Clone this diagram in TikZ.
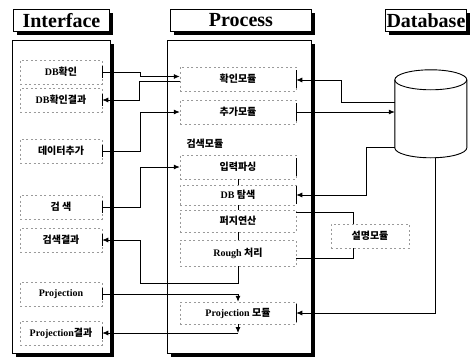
\documentclass[tikz,border=0pt]{standalone}
\usepackage{fontspec}
\setmainfont{Liberation Serif}
\newfontfamily\kr{Noto Sans CJK KR}
\usetikzlibrary{arrows.meta, positioning, calc, shadows}
\definecolor{inkdash}{HTML}{9A9A9A}
\newcommand{\ko}[1]{{\kr\bfseries #1}}
\newcommand{\drum}[1]{%
  ($(db.north west)+(0,10)$) -- ++(0,68)
    arc[start angle=180, end angle=0, x radius=36, y radius=10] -- ++(0,-68)
    arc[start angle=0, end angle=-180, x radius=36, y radius=10] -- cycle}

\begin{document}
\begin{tikzpicture}[x=1pt, y=-1pt, font=\fontsize{10}{12}\selectfont\bfseries,
  panel/.style={draw, line width=0.9pt, fill=white,
    drop shadow={shadow xshift=4pt, shadow yshift=-4pt, fill=black, opacity=1}},
  title/.style={panel, font=\fontsize{20}{22}\selectfont\bfseries,
    inner sep=1pt, minimum height=22pt, anchor=north west},
  item/.style={draw=inkdash, dash pattern=on 2pt off 2.5pt, line width=0.5pt,
    minimum height=24pt},
  link/.style={line width=0.8pt},
  feed/.style={link, -{Latex[length=6pt, width=5pt]}}]
  \useasboundingbox (0,0) rectangle (473,361);
  \node[title, minimum width=96pt] (tiface) at (13,9) {Interface};
  \node[title, minimum width=141pt] (tproc) at (170,9) {Process};
  \node[title, minimum width=81pt] (tdb) at (385,9) {Database};
  \node[panel, anchor=north west, minimum width=98pt, minimum height=313pt]
    (iface) at (12,40) {};
  \node[panel, anchor=north west, minimum width=144pt, minimum height=313pt]
    (proc) at (167,40) {};
  \node[minimum width=72pt, minimum height=88pt, inner sep=0pt] (db)
    at (431,114) {};
  \fill[black, shift={(4,4)}] \drum{};
  \draw[line width=0.9pt, fill=white] \drum{};
  \draw[line width=0.9pt] ($(db.north west)+(0,10)$)
    arc[start angle=180, end angle=0, x radius=36, y radius=10];
  \foreach \name/\ypos/\lab in {i1/72/{DB\ko{확인}}, i2/100/{DB\ko{확인결과}},
      i3/151/{\ko{데이터추가}}, i4/207/{\ko{검 색}}, i5/240/{\ko{검색결과}},
      i6/294/{Projection}, i7/333/{Projection\ko{결과}}}{%
    \node[item, minimum width=82pt] (\name) at (61,\ypos) {\lab};
    \draw[link] ([yshift=6pt]\name.east) -- ([yshift=-6pt]\name.east);}
  \node[item, minimum width=116pt] (p1) at (238,79) {\ko{확인모듈}};
  \node[item, minimum width=116pt] (p2) at (238,112) {\ko{추가모듈}};
  \node[anchor=west] (search) at (183,144) {\ko{검색모듈}};
  \node[item, minimum width=116pt] (p3) at (238,167) {\ko{입력파싱}};
  \node[item, minimum width=116pt, minimum height=20pt] (p4) at (238,195)
    {DB \ko{탐색}};
  \node[item, minimum width=116pt, minimum height=22pt] (p5) at (238,221)
    {\ko{퍼지연산}};
  \node[item, minimum width=116pt, minimum height=26pt] (p6) at (238,253)
    {Rough \ko{처리}};
  \node[item, minimum width=116pt, minimum height=22pt] (p7) at (238,313)
    {Projection \ko{모듈}};
  \node[item, minimum width=78pt] (s) at (370,236) {\ko{설명모듈}};
  \foreach \name in {p1, p2, p3, p4, p7}{%
    \draw[link] ([yshift=9pt]\name.east) -- ([yshift=-9pt]\name.east);}
  \draw[link] (p3.south) -- (p4.north);
  \draw[link] (p4.south) -- (p5.north);
  \draw[link] (p5.south) -- (p6.north);
  \draw[feed] (i1.east) -- ++(38,0) |- ([yshift=2.5pt]p1.west);
  \draw[feed] ([yshift=-2.5pt]p1.west) -- ++(-40,0) |- (i2.east);
  \draw[feed] (i3.east) -- ++(38,0) |- (p2.west);
  \draw[feed] (i4.east) -- ++(38,0) |- (p3.west);
  \draw[feed] (p6.south) -- ++(0,17) -| ([xshift=38pt]i5.east) -- (i5.east);
  \draw[feed] (i6.east) -| (p7.north);
  \draw[feed] (p7.south) -- (p7.south |- i7.east);
  \draw[feed] (p7.south |- i7.east) -- (i7.east);
  \draw[feed] ([yshift=12pt]db.west) -- ++(-53,0) |- ([yshift=-1pt]p1.east);
  \draw[feed] (p2.east) -- (p2.east -| db.west);
  \draw[feed] ([yshift=-33pt]db.west) -- ++(-28,0) |- (p4.east);
  \draw[link] ([yshift=9pt]p5.east) -| ([xshift=-17pt]s.north);
  \draw[link] ([yshift=-5pt]p6.east) -| ([xshift=-17pt]s.south);
  \draw[feed] ([xshift=4pt]db.south) |- (p7.east);
\end{tikzpicture}
\end{document}
